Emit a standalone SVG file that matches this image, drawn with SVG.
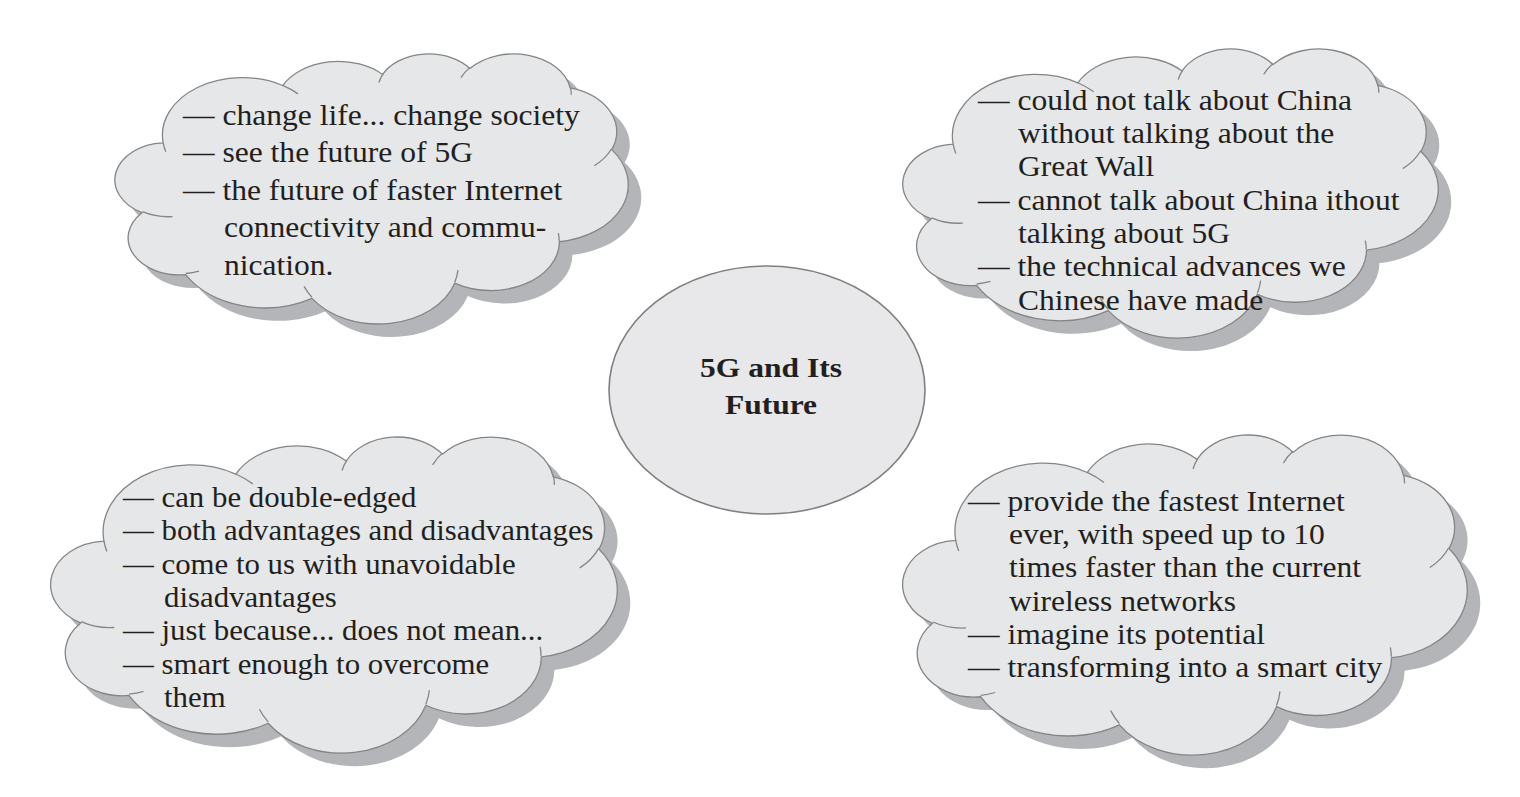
<svg xmlns="http://www.w3.org/2000/svg" xmlns:xlink="http://www.w3.org/1999/xlink" width="1520" height="797" viewBox="0 0 1520 797">
<style>
.shadow{fill:#b4b5b8;stroke:none}
.cloud{fill:#e6e7e8;stroke:#858585;stroke-width:1.3}
.inner{fill:none;stroke:#858585;stroke-width:1.3}
.t{font-family:"Liberation Serif","Times New Roman",serif;font-size:29.5px;fill:#231f20}
.title{font-family:"Liberation Serif","Times New Roman",serif;font-size:26.5px;font-weight:bold;fill:#231f20;text-anchor:middle}
</style>
<defs>
<path id="cloudShape" vector-effect="non-scaling-stroke" d="M39,143.7 A67.53,91.9 0 0 1 140.05,52.02 A53.33,72.67 0 0 1 224.56,34.3 A43.65,59.45 0 0 1 298.34,24.79 A48.57,65.95 0 0 1 383.19,55.75 A53.33,72.73 0 0 1 418.19,154.58 A67.75,92.2 0 0 1 374.05,302.01 A57.85,78.67 0 0 1 285.57,368.11 A67.52,92.15 0 0 1 164.82,392.64 A77.2,105.43 0 0 1 58.09,354.71 A43.6,59.18 0 0 1 21.17,255.49 A43.45,59.45 0 0 1 39,143.7 Z"/>
<path id="cloudInner" vector-effect="non-scaling-stroke" d="M46.93,261.77 A43.45,59.45 0 0 1 21.59,253.79 M69.28,348.99 A43.6,59.18 0 0 1 58.23,352.79 M164.78,390.9 A67.52,92.15 0 0 1 158.1,373.49 M288.27,347.51 A67.52,92.15 0 0 1 285.6,366.6 M373.09,288.1 A57.85,78.67 0 0 1 373.78,300.88 M417.98,153.54 A53.33,72.73 0 0 1 403.5,180.3 M383.24,54.26 A48.57,65.95 0 0 1 384,66.9 M290.78,39.52 A48.57,65.95 0 0 1 298.2,23.4 M221.41,47.2 A43.65,59.45 0 0 1 225,33.3 M140,51.92 A67.53,91.9 0 0 1 153.01,65.42 M41.27,157.89 A67.53,91.9 0 0 1 39,143.7"/>
</defs>

<g id="connectors"></g>

<g id="node-top-left">
<use xlink:href="#cloudShape" href="#cloudShape" class="shadow" transform="translate(130,66) scale(1.1829,0.625)"/>
<use xlink:href="#cloudShape" href="#cloudShape" class="cloud" transform="translate(117,53) scale(1.1829,0.625)"/>
<use xlink:href="#cloudInner" href="#cloudInner" class="inner" transform="translate(117,53) scale(1.1829,0.625)"/>
<text class="t" transform="translate(183,124.8) scale(1.07,1)">— change life... change society</text>
<text class="t" transform="translate(183,162) scale(1.07,1)">— see the future of 5G</text>
<text class="t" transform="translate(183,199.8) scale(1.07,1)">— the future of faster Internet</text>
<text class="t" transform="translate(224,237.3) scale(1.07,1)">connectivity and commu-</text>
<text class="t" transform="translate(224,275) scale(1.07,1)">nication.</text>
</g>

<g id="node-top-right">
<use xlink:href="#cloudShape" href="#cloudShape" class="shadow" transform="translate(918,61) scale(1.2338,0.669)"/>
<use xlink:href="#cloudShape" href="#cloudShape" class="cloud" transform="translate(905,48) scale(1.2338,0.669)"/>
<use xlink:href="#cloudInner" href="#cloudInner" class="inner" transform="translate(905,48) scale(1.2338,0.669)"/>
<text class="t" transform="translate(978,109.5) scale(1.07,1)">— could not talk about China</text>
<text class="t" transform="translate(1018,142.9) scale(1.07,1)">without talking about the</text>
<text class="t" transform="translate(1018,176.2) scale(1.07,1)">Great Wall</text>
<text class="t" transform="translate(978,209.6) scale(1.07,1)">— cannot talk about China ithout</text>
<text class="t" transform="translate(1018,242.9) scale(1.07,1)">talking about 5G</text>
<text class="t" transform="translate(978,276.3) scale(1.07,1)">— the technical advances we</text>
<text class="t" transform="translate(1018,309.6) scale(1.07,1)">Chinese have made</text>
</g>

<g id="node-center">
<ellipse cx="767" cy="390" rx="158" ry="124" fill="#e8e8ea" stroke="#808080" stroke-width="1.6"/>
<text class="title" transform="translate(771,377.3) scale(1.19,1)">5G and Its</text>
<text class="title" transform="translate(771,414.3) scale(1.19,1)">Future</text>
</g>

<g id="node-bottom-left">
<use xlink:href="#cloudShape" href="#cloudShape" class="shadow" transform="translate(66,449) scale(1.3056,0.7315)"/>
<use xlink:href="#cloudShape" href="#cloudShape" class="cloud" transform="translate(53,436) scale(1.3056,0.7315)"/>
<use xlink:href="#cloudInner" href="#cloudInner" class="inner" transform="translate(53,436) scale(1.3056,0.7315)"/>
<text class="t" transform="translate(123,507) scale(1.045,1)">— can be double-edged</text>
<text class="t" transform="translate(123,540.3) scale(1.045,1)">— both advantages and disadvantages</text>
<text class="t" transform="translate(123,573.7) scale(1.045,1)">— come to us with unavoidable</text>
<text class="t" transform="translate(164,607) scale(1.045,1)">disadvantages</text>
<text class="t" transform="translate(123,640.3) scale(1.045,1)">— just because... does not mean...</text>
<text class="t" transform="translate(123,673.7) scale(1.045,1)">— smart enough to overcome</text>
<text class="t" transform="translate(164,707) scale(1.045,1)">them</text>
</g>

<g id="node-bottom-right">
<use xlink:href="#cloudShape" href="#cloudShape" class="shadow" transform="translate(918,447) scale(1.3009,0.7407)"/>
<use xlink:href="#cloudShape" href="#cloudShape" class="cloud" transform="translate(905,434) scale(1.3009,0.7407)"/>
<use xlink:href="#cloudInner" href="#cloudInner" class="inner" transform="translate(905,434) scale(1.3009,0.7407)"/>
<text class="t" transform="translate(968,510.7) scale(1.07,1)">— provide the fastest Internet</text>
<text class="t" transform="translate(1009,544) scale(1.07,1)">ever, with speed up to 10</text>
<text class="t" transform="translate(1009,577.3) scale(1.07,1)">times faster than the current</text>
<text class="t" transform="translate(1009,610.6) scale(1.07,1)">wireless networks</text>
<text class="t" transform="translate(968,643.9) scale(1.07,1)">— imagine its potential</text>
<text class="t" transform="translate(968,677.2) scale(1.07,1)">— transforming into a smart city</text>
</g>
</svg>
